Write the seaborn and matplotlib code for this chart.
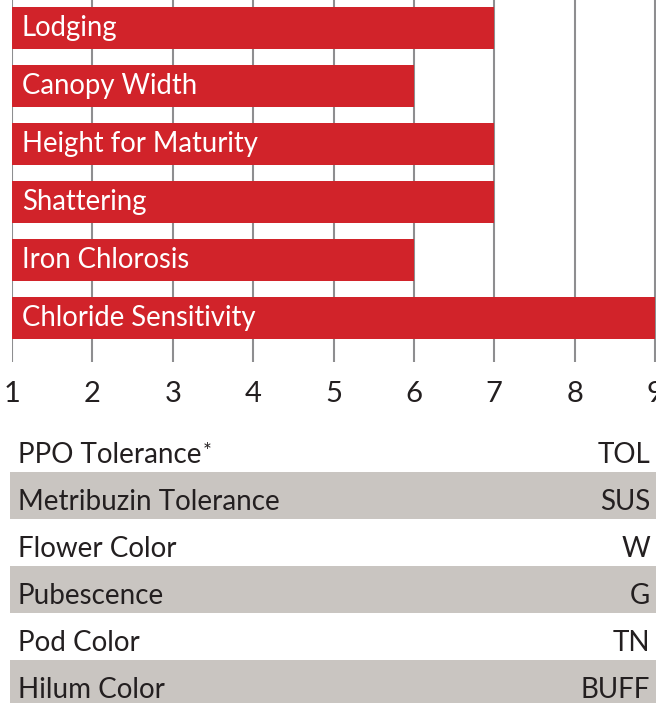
import matplotlib
matplotlib.use("Agg")
import matplotlib.pyplot as plt
import seaborn as sns
import pandas as pd

traits = ["Lodging", "Canopy Width", "Height for Maturity", "Shattering",
          "Iron Chlorosis", "Chloride Sensitivity"]
scores = [7, 6, 7, 7, 6, 9]
tick_values = [1, 2, 3, 4, 5, 6, 7, 8, 9]

table_labels = ["PPO Tolerance", "Metribuzin Tolerance", "Flower Color",
                "Pubescence", "Pod Color", "Hilum Color"]
table_values = ["TOL", "SUS", "W", "G", "TN", "BUFF"]

RED = "#D1232A"
GRID = "#8E8E90"
GRAY = "#C9C5C1"
DARK = "#231F20"

sns.set_theme(style="white")
plt.rcParams["font.family"] = ["Lato", "DejaVu Sans"]

W, H = 656, 703
fig = plt.figure(figsize=(W / 100, H / 100), dpi=100)

# ---- bar chart ----
ax = fig.add_axes([12 / W, (H - 362) / H, 644 / W, 362 / H])
df = pd.DataFrame({"trait": traits, "score": scores})
sns.barplot(data=df, x="score", y="trait", orient="h", color=RED,
            saturation=1, width=42 / 58, ax=ax, linewidth=0)
unit = 80.375
ax.set_xlim(1, 1 + 644 / unit)
ax.set_ylim(5 + 44 / 58, -28 / 58)
ax.set_axisbelow(True)
ax.set_xticks(tick_values)
ax.set_xticklabels([str(v) for v in tick_values], fontsize=21, color=DARK)
ax.tick_params(axis="x", length=0, pad=13.5)
ax.set_yticks([])
ax.grid(axis="x", color=GRID, linewidth=1.5)
ax.grid(axis="y", visible=False)
for s in ax.spines.values():
    s.set_visible(False)
ax.set_xlabel("")
ax.set_ylabel("")
for i, t in enumerate(traits):
    ax.annotate(t, xy=(1, i), xytext=(7.2, 0), textcoords="offset points",
                color="white", fontsize=19.8, va="center", ha="left")

# ---- trait table ----
tx = fig.add_axes([0, (H - 707) / H, 1, 282 / H])
tx.set_xlim(0, W)
tx.set_ylim(6, 0)
tx.axis("off")
for i, (lab, val) in enumerate(zip(table_labels, table_values)):
    if i % 2 == 1:
        tx.add_patch(plt.Rectangle((10, i), W - 10, 1, color=GRAY, lw=0))
    t = tx.text(18, i + 0.64, lab, fontsize=20, color=DARK, va="center", ha="left")
    if i == 0:
        tx.annotate("*", xy=(1.0, 1.0), xycoords=t, xytext=(0.5, 0),
                    textcoords="offset points", fontsize=15, color=DARK,
                    va="top", ha="left")
    tx.text(650, i + 0.64, val, fontsize=20, color=DARK, va="center", ha="right")

fig.savefig("out.png", dpi=100)
